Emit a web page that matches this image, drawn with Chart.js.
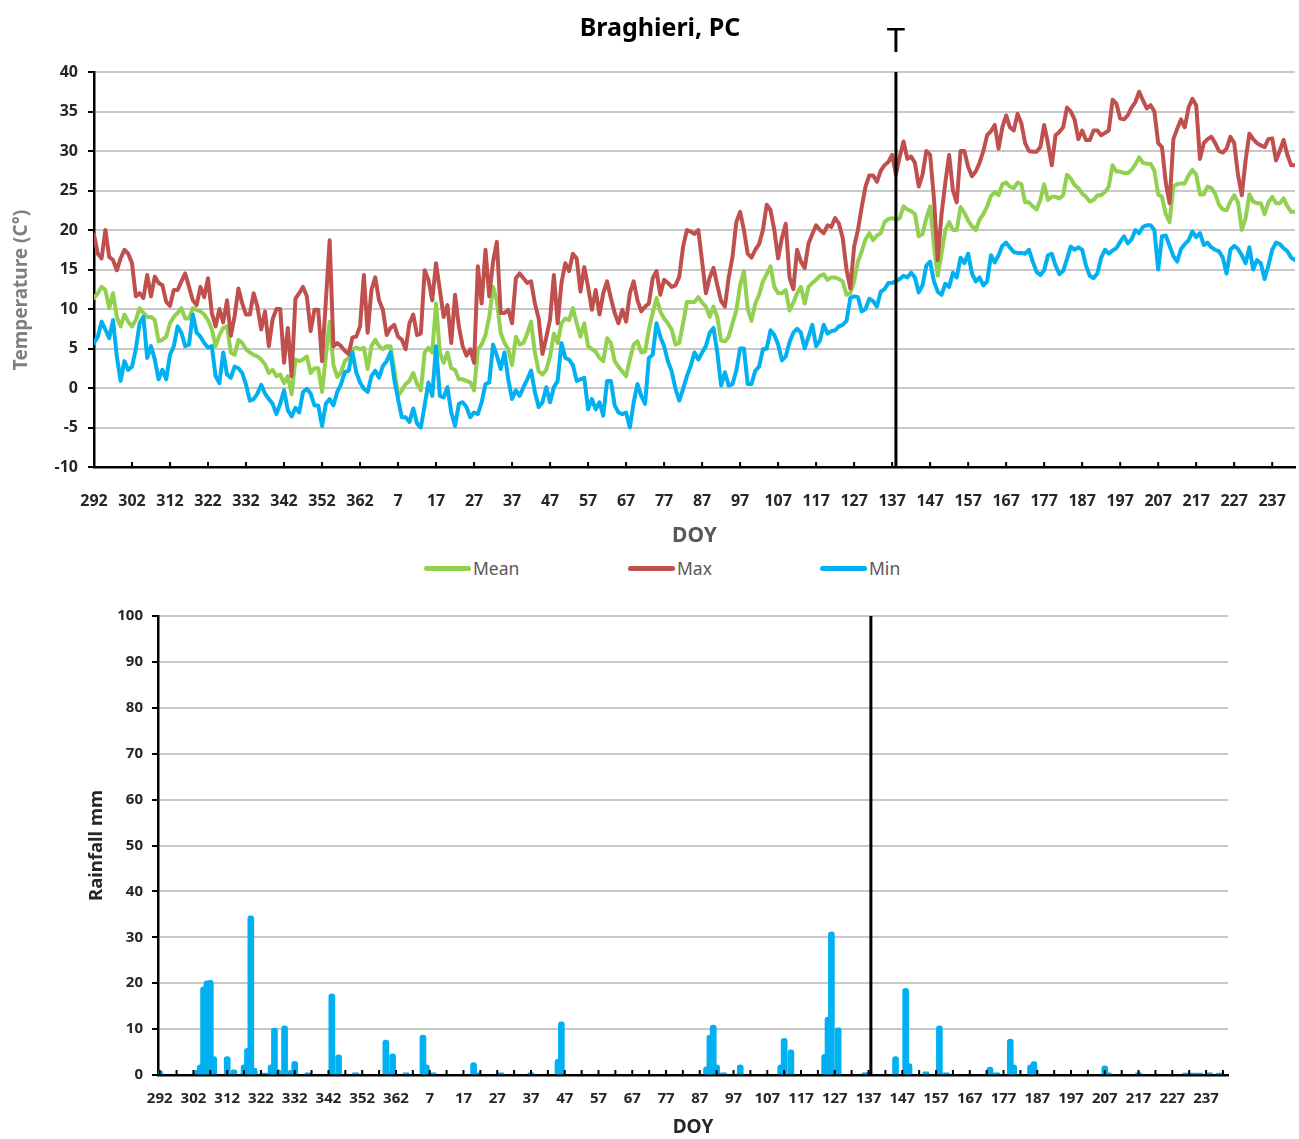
<!DOCTYPE html>
<html>
<head>
<meta charset="utf-8">
<title>Braghieri, PC</title>
<script src="https://cdn.jsdelivr.net/npm/chart.js@4.4.1/dist/chart.umd.min.js"></script>
<style>
  html, body { margin: 0; padding: 0; background: #fff; }
  #page { position: relative; width: 1299px; height: 1139px; overflow: hidden; font-family: "Noto Sans", sans-serif; }
  .box { position: absolute; left: 0; width: 1299px; }
  #tempBox { top: 0; height: 552px; }
  #rainBox { top: 590px; height: 549px; }
  .leg { position: absolute; top: 556px; height: 24px; display: flex; align-items: center; font-size: 17.5px; color: #595959; }
  .leg i { display: inline-block; width: 47px; height: 5px; border-radius: 3px; margin-right: 2px; }
</style>
</head>
<body>
<div id="page">
  <div class="box" id="tempBox"><canvas id="tempChart"></canvas></div>
  <div id="legend"></div>
  <div class="box" id="rainBox"><canvas id="rainChart"></canvas></div>
</div>
<script>
// days run from DOY 292 through the new year to DOY 243
const startDoy = 292;
const nDays = 317;
const doy = [];
for (let i = 0; i < nDays; i++) doy.push(((startDoy - 1 + i) % 365) + 1);
const tickIdx = [];
for (let i = 0; i < nDays; i += 10) tickIdx.push(i);

const seriesNames = ['Mean', 'Max', 'Min'];
const colors = { Mean: '#92D050', Max: '#C0504D', Min: '#00B0F0', rain: '#00B0F0' };

const meanT = [
  11.4, 12, 12.8, 12.4, 10.1, 12, 9, 7.8, 9.3, 8.4,
  7.8, 8.6, 10.1, 9.5, 9, 9, 8.6, 5.9, 6.1, 6.5,
  8.2, 9, 9.5, 10.1, 8.8, 8.8, 10.1, 9.9, 9.7, 9.3,
  8.6, 7.4, 5.3, 6.7, 7.6, 7.8, 4.5, 4.2, 6.1, 5.7,
  4.9, 4.5, 4.2, 4, 3.6, 3, 1.9, 2.3, 1.5, 1.7,
  0.6, 1.5, -0.8, 3.6, 3.4, 3.6, 4, 1.9, 2.5, 2.5,
  -0.5, 4, 8.4, 2.9, 1.4, 2, 3.4, 3.8, 4.9, 5.1,
  4.9, 5.1, 2.4, 5.3, 6.1, 5.3, 4.9, 5.3, 5.3, 2.4,
  -1, -0.3, 0.5, 0.9, 1.9, 0.5, -0.3, 4.5, 5.1, 4.5,
  10.7, 4.5, 3.2, 4.5, 2.5, 2.3, 1.1, 1.1, 0.9, 0.7,
  -0.3, 4.9, 5.5, 6.7, 9, 12.8, 11, 7, 5.7, 4.9,
  2.9, 6.5, 5.5, 5.7, 6.9, 8.4, 4.5, 2.1, 1.7, 2.3,
  4, 6.9, 5.7, 8.2, 8.8, 8.6, 10.1, 8.2, 6.5, 8.2,
  5.3, 4.9, 4.6, 3.8, 3.4, 6.3, 5.7, 3.4, 2.7, 2.1,
  1.5, 3.6, 5.5, 5.9, 4.5, 4.6, 7.4, 9.5, 11.4, 9.7,
  8.8, 8.2, 7.4, 5.5, 5.7, 8.2, 10.9, 10.9, 10.9, 11.5,
  10.8, 10.3, 9, 10.3, 9, 6, 5.9, 6.5, 8.2, 9.8,
  13, 14.8, 10, 8.5, 10.7, 11.8, 13.5, 14.4, 15.4, 12.8,
  12, 12, 12.4, 9.8, 10.8, 12, 12.8, 10.7, 12.8, 13.3,
  13.7, 14.2, 14.4, 13.7, 14, 14, 13.8, 13.5, 11.8, 12,
  13.5, 16, 17.3, 18.8, 19.6, 18.7, 19.3, 19.6, 21, 21.4,
  21.5, 21.3, 21.5, 23, 22.6, 22.4, 22, 19.2, 19.5, 21.5,
  23, 18, 14.2, 17, 20, 21, 20, 20, 22.9, 22.2,
  21.2, 20.5, 20, 21.3, 22, 23, 24.3, 24.8, 24.4, 25.8,
  26, 25.5, 25.3, 26, 25.8, 23.5, 23.5, 23, 22.6, 23.8,
  25.8, 23.8, 24.2, 24.2, 24, 24.4, 27, 26.5, 25.7, 25.3,
  24.6, 24.2, 23.6, 23.8, 24.4, 24.4, 24.8, 25.5, 28.2, 27.4,
  27.4, 27.2, 27.2, 27.6, 28.3, 29.2, 28.5, 28.4, 28.4, 27.5,
  24.5, 24.2, 22, 21, 25.5, 25.8, 25.9, 25.9, 26.9, 27.6,
  27, 24.5, 24.5, 25.5, 25.3, 24.6, 23.2, 22.6, 22.5, 23.6,
  24.4, 23.5, 20, 21.5, 24.5, 23.6, 23.4, 23.4, 22, 23.5,
  24.2, 23.4, 23.4, 24, 23, 22.3, 22.3
];

const maxT = [
  19.4, 17, 16.4, 20, 16.6, 16.2, 14.9, 16.4, 17.5, 17,
  15.8, 11.6, 12, 11.4, 14.3, 11.6, 14.1, 13.3, 13, 10.9,
  10.4, 12.4, 12.4, 13.5, 14.5, 12.8, 11.1, 10.5, 12.8, 11.5,
  13.9, 9.5, 7.8, 10, 8.3, 11.1, 6.6, 9.1, 12.6, 10.7,
  9.3, 9.3, 12, 10.3, 7.4, 9.7, 5.3, 8.7, 10, 10,
  3.2, 7.6, 1.5, 11.3, 12, 12.8, 11.6, 7.2, 9.9, 9.9,
  3.4, 11, 18.7, 5.3, 5.7, 5.3, 4.7, 4.3, 6.4, 6.5,
  7.8, 14.3, 7, 12.4, 14, 11.1, 9.9, 6.7, 7.6, 8,
  6.5, 6.1, 4.9, 8.2, 9.3, 6.7, 6.9, 14.9, 13.7, 11.1,
  15.8, 12.4, 9, 10.5, 5.7, 11.8, 7.8, 5.3, 4.1, 4.9,
  3.2, 15.4, 10.7, 17.5, 11.6, 16, 18.5, 9.5, 9.5, 9.9,
  8.2, 13.9, 14.5, 13.9, 13.3, 13.5, 10.7, 8.8, 4.3, 6.4,
  8.7, 14.3, 8.2, 13.3, 15.8, 14.8, 17, 16.4, 12.2, 15.3,
  12.8, 9.9, 12.4, 9.3, 12, 13.5, 11.4, 9.5, 8.2, 9.9,
  8.4, 12, 13.5, 11.1, 9.7, 10.3, 10.7, 13.9, 14.8, 11.8,
  13.7, 13.3, 12.8, 13, 14.1, 17.9, 20, 19.8, 19.5, 20,
  16, 12, 14, 15.2, 13, 11, 10.3, 14, 16.6, 21,
  22.3, 20, 17, 16.5, 17.5, 18.2, 20, 23.2, 22.5, 20,
  16.4, 19, 20.8, 14, 12.5, 17.5, 16, 15.2, 18.3, 19.5,
  20.6, 20, 19.6, 20.6, 20.4, 21.5, 20.8, 19, 15, 12.6,
  17.9, 20, 22.9, 25.5, 26.9, 26.9, 26.1, 27.5, 28.2, 28.6,
  29.5, 27, 29.3, 31.2, 29, 29.3, 28.5, 25.5, 27, 30,
  29.5, 24, 16.2, 22, 26, 29.5, 25, 23.5, 30, 30,
  28, 26.8, 27.4, 28.5, 30, 32, 32.5, 33.3, 30.3, 33,
  34.5, 33, 32.6, 34.7, 33.5, 31, 30, 29.9, 29.9, 30.5,
  33.3, 31, 28.2, 32, 32.4, 33, 35.5, 35, 34, 31.5,
  32.6, 31.4, 31.4, 32.6, 32.6, 32, 32.3, 32.6, 36.5, 36,
  34.1, 34, 34.5, 35.5, 36.2, 37.5, 36.4, 35.4, 35.8, 35,
  31, 30.5, 26, 23.4, 31.5, 32.8, 34, 33, 35.5, 36.6,
  35.8, 29, 31, 31.5, 31.8, 31, 30, 29.8, 30.3, 31.8,
  31, 27, 24.4, 28.8, 32.2, 31.5, 31, 30.7, 30.5, 31.5,
  31.6, 28.8, 30, 31.4, 29.5, 28.2, 28.2
];

const minT = [
  5.7, 6.5, 8.4, 7.4, 6.3, 8.6, 4, 0.9, 3.4, 2.3,
  2.7, 4.9, 8.2, 9, 3.8, 5.3, 3.6, 1.1, 2.3, 1.1,
  4.2, 5.3, 7.8, 7, 5.3, 5.5, 9.3, 7, 6.5, 5.7,
  5.1, 5.3, 1.5, 0.6, 4.5, 1.7, 1.3, 2.7, 2.5, 1.9,
  0.4, -1.6, -1.4, -0.7, 0.4, -0.7, -1.4, -2, -3.3, -2,
  -0.3, -2.8, -3.6, -2.5, -3.1, -0.5, -0.1, -0.7, -2.2, -2.2,
  -4.8, -2, -1.4, -2.2, -0.5, 0.5, 2, 2.2, 4.5, 2,
  0.7, -0.1, -0.5, 1.5, 2.2, 1.3, 2.8, 3.4, 4.5, 1.1,
  -1.4, -3.7, -3.7, -4.3, -2.6, -4.5, -5, -2.2, 0.7, -1,
  5.3, -1, -1.2, 0.1, -3.1, -4.8, -2, -1.8, -2.4, -3.7,
  -3.1, -3.3, -1.8, 0.5, 0.7, 5.5, 4.1, 2.4, 4.5, 1.1,
  -1.4, -0.3, -1, 0.1, 1.1, 2.2, -0.5, -2.4, -1.8, 0.1,
  -1.8, 0.1, 0.9, 5.7, 3.8, 3.6, 2.9, 0.9, 1.1, 1.3,
  -2.7, -1.4, -2.7, -1.8, -3.5, 0.9, 0.9, -2.2, -3.1, -3.3,
  -3.1, -5, -1.8, 0.5, -1, -2, 3.8, 4.2, 8.2, 6.5,
  5.3, 3.4, 2.1, -0.1, -1.6, -0.1, 1.5, 2.8, 4.5, 3.6,
  4.5, 5.3, 7, 7.6, 4.5, 0.3, 2, 0.3, 0.5, 2.2,
  5, 5, 0.5, 0.5, 2.2, 2.7, 4.9, 5, 7.3, 6.7,
  5.5, 3.5, 4, 5.8, 7, 7.5, 7, 5, 6.5, 8,
  5.3, 6, 8, 6.9, 7.2, 7.3, 7.8, 8, 8.5, 11.4,
  11.6, 11.5, 9.7, 10, 11.3, 11, 10.3, 12.2, 12.5, 13.3,
  13.3, 13.5, 13.8, 14.2, 14, 14.6, 14, 12.1, 13, 15.5,
  16, 13.5, 12.2, 11.8, 13.2, 12.8, 14.6, 14, 16.5, 15.8,
  17, 14.5, 13.5, 14, 13, 13.5, 16.8, 15.9, 16.8, 18,
  18.4, 17.8, 17.2, 17.1, 17.1, 17, 17.5, 16, 14.7, 14.3,
  14.9, 16.8, 17, 15.5, 14.4, 14.8, 16.3, 17.9, 17.5, 17.8,
  17.5, 15.5, 14.2, 13.9, 14.5, 16.5, 17.5, 17, 17.4, 17.7,
  18.5, 19.2, 18.3, 18.8, 20, 19.6, 20.4, 20.6, 20.6, 20,
  15, 19.2, 19.3, 18, 16.7, 16, 17.6, 18.2, 18.7, 19.8,
  19.1, 19.6, 18.1, 18.4, 17.8, 17.5, 17.3, 16.5, 14.5, 17.5,
  18, 17.6, 16.8, 15.8, 17.8, 15, 16.2, 15.8, 13.8, 15.5,
  17.5, 18.4, 18.2, 17.7, 17.3, 16.5, 16.2
];

// rainy days only (DOY) and their rainfall in mm
const rainDoy = [292, 303, 304, 305, 306, 307, 308, 312, 314, 317, 318, 319, 320, 323, 325, 326, 327, 329, 331, 332,
  336, 343, 345, 350, 359, 361, 365, 5, 6, 8, 20, 21, 28, 37, 45, 46, 89, 90, 91, 92, 94, 99, 111, 112, 114,
  124, 125, 126, 128, 136, 137, 145, 148, 149, 154, 158, 160, 173, 175, 179, 180, 185, 186, 207, 208, 217,
  231, 233, 235, 238, 241];
const rainMm = [0.9, 1, 2.2, 19.2, 20.5, 20.6, 4, 4, 1.1, 2.2, 5.8, 34.7, 1.5, 0.4, 2.2, 10.2, 1.1, 10.7, 1, 3,
  0.5, 17.7, 4.4, 0.5, 7.6, 4.6, 0.5, 8.7, 2.2, 0.5, 2.7, 0.5, 0.5, 0.5, 3.4, 11.6, 1.8, 8.7, 10.9, 2.2, 0.5, 2.2, 2.2, 8, 5.5,
  4.5, 12.6, 31.2, 10.3, 0.5, 0.5, 4, 18.9, 2.5, 0.7, 10.7, 0.5, 1.7, 0.5, 7.8, 2.2, 2.2, 2.9, 2, 0.5, 0.5,
  0.4, 0.4, 0.4, 0.5, 0.4];

const tDay = 138; // the T marker

Chart.defaults.font.family = '"Noto Sans", sans-serif';
Chart.defaults.color = '#262626';

const pts = arr => arr.map((v, i) => ({ x: i, y: v }));
const rainPts = rainDoy.map((d, k) => ({ x: doy.indexOf(d), y: rainMm[k] }));

// legend in html
const legendPos = { Mean: 424, Max: 628, Min: 820 };
const legendBox = document.getElementById('legend');
seriesNames.forEach(name => {
  const el = document.createElement('div');
  el.className = 'leg';
  el.style.left = legendPos[name] + 'px';
  el.innerHTML = '<i style="background:' + colors[name] + '"></i>' + name;
  legendBox.appendChild(el);
});

const decor = {
  id: 'decor',
  afterDatasetsDraw(chart, args, o) {
    const { ctx, chartArea: a, scales: { x } } = chart;
    ctx.save();
    ctx.strokeStyle = '#000';
    ctx.lineWidth = 2;
    ctx.beginPath();
    for (let v = 0; v < nDays; v += o.tickEvery) {
      const px = x.getPixelForValue(v);
      ctx.moveTo(px, a.bottom);
      ctx.lineTo(px, a.bottom - 5);
    }
    ctx.stroke();
    const tx = x.getPixelForValue(o.lineAt);
    ctx.lineWidth = 3;
    ctx.beginPath();
    ctx.moveTo(tx, a.top);
    ctx.lineTo(tx, a.bottom);
    ctx.stroke();
    ctx.fillStyle = '#000';
    ctx.textAlign = 'center';
    ctx.textBaseline = 'alphabetic';
    if (o.mark) {
      ctx.font = '33px "Noto Sans"';
      ctx.fillText(o.mark, tx, 52);
    }
    if (o.title) {
      ctx.font = 'bold 25px "Noto Sans"';
      ctx.fillText(o.title, 660, 36);
    }
    if (o.yTitle) {
      ctx.save();
      ctx.translate(22, 290);
      ctx.rotate(-Math.PI / 2);
      ctx.fillStyle = '#7f7f7f';
      ctx.font = 'bold 19px "Noto Sans"';
      ctx.textBaseline = 'middle';
      ctx.fillText(o.yTitle, 0, 0);
      ctx.restore();
    }
    ctx.restore();
  }
};

const xTicks = s => { s.ticks = tickIdx.map(v => ({ value: v })); };

new Chart(document.getElementById('tempChart'), {
  type: 'line',
  data: {
    datasets: [
      { label: 'Mean', data: pts(meanT), borderColor: colors.Mean, order: 3 },
      { label: 'Max', data: pts(maxT), borderColor: colors.Max, order: 2 },
      { label: 'Min', data: pts(minT), borderColor: colors.Min, order: 1 }
    ]
  },
  options: {
    responsive: true,
    maintainAspectRatio: false,
    animation: false,
    layout: { padding: { top: 72, right: 4, left: 0, bottom: 0 } },
    elements: {
      point: { radius: 0 },
      line: { borderWidth: 4, tension: 0, borderJoinStyle: 'round', borderCapStyle: 'round' }
    },
    plugins: {
      legend: { display: false },
      tooltip: { enabled: false },
      decor: { tickEvery: 10, lineAt: doy.indexOf(tDay), mark: 'T', title: 'Braghieri, PC', yTitle: 'Temperature (C°)' }
    },
    scales: {
      x: {
        type: 'linear', min: 0, max: nDays - 1,
        afterBuildTicks: xTicks,
        afterFit: s => { s.height = 85; s.paddingLeft = 0; s.paddingRight = 0; },
        grid: { display: false, drawTicks: false },
        border: { display: true, color: '#000', width: 2.5 },
        ticks: { autoSkip: false, maxRotation: 0, padding: 24.4, font: { size: 16, weight: 'bold' }, callback: v => doy[v] },
        title: { display: true, text: 'DOY', color: '#595959', font: { size: 21, weight: 'bold' }, padding: { top: 0, bottom: 3.4 } }
      },
      y: {
        min: -10, max: 40,
        afterFit: s => { s.width = 94; },
        ticks: { stepSize: 5, padding: 10, font: { size: 16, weight: 'bold' } },
        grid: { color: '#c8c8c8', lineWidth: 2, tickLength: 6, tickColor: '#000', tickWidth: 2 },
        border: { color: '#000', width: 2.5 }
      }
    }
  },
  plugins: [decor]
});

new Chart(document.getElementById('rainChart'), {
  type: 'bar',
  data: {
    datasets: [
      { label: 'Rainfall', data: rainPts, backgroundColor: colors.rain, barThickness: 6, borderRadius: 3 }
    ]
  },
  options: {
    responsive: true,
    maintainAspectRatio: false,
    animation: false,
    layout: { padding: { top: 26, right: 71, left: 0, bottom: 0 } },
    plugins: {
      legend: { display: false },
      tooltip: { enabled: false },
      decor: { tickEvery: 5, lineAt: doy.indexOf(tDay) - 0.3 }
    },
    scales: {
      x: {
        type: 'linear', min: -0.5, max: nDays - 0.5, offset: false,
        afterBuildTicks: xTicks,
        afterFit: s => { s.height = 64; s.paddingLeft = 0; s.paddingRight = 0; },
        grid: { display: false, drawTicks: false },
        border: { display: true, color: '#000', width: 2.5 },
        ticks: { autoSkip: false, maxRotation: 0, padding: 15, font: { size: 15, weight: 'bold' }, callback: v => doy[v] },
        title: { display: true, text: 'DOY', font: { size: 19, weight: 'bold' }, padding: { top: 0, bottom: 0 } }
      },
      y: {
        min: 0, max: 100,
        afterFit: s => { s.width = 158; },
        ticks: { stepSize: 10, padding: 9, font: { size: 15, weight: 'bold' } },
        grid: { color: '#c8c8c8', lineWidth: 2, tickLength: 6, tickColor: '#000', tickWidth: 2 },
        border: { color: '#000', width: 2.5 },
        title: { display: true, text: 'Rainfall mm', font: { size: 18.5, weight: 'bold' }, padding: { top: 85.9, bottom: 0 } }
      }
    }
  },
  plugins: [decor]
});
</script>
</body>
</html>
